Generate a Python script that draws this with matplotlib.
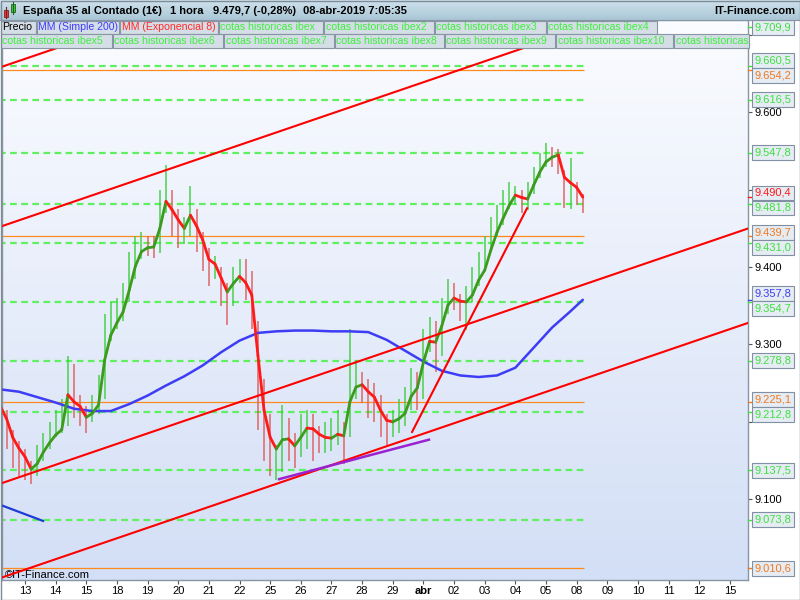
import numpy as np
import matplotlib.pyplot as plt
from matplotlib.collections import LineCollection
from matplotlib.colors import LinearSegmentedColormap
from matplotlib.patches import Rectangle

plt.rcParams['font.family'] = ['Liberation Sans', 'DejaVu Sans']

# trading days shown on the time axis (13-mar .. 15-abr 2019)
day_labels = ['13', '14', '15', '18', '19', '20', '21', '22', '25', '26', '27', '28', '29',
              'abr', '02', '03', '04', '05', '08', '09', '10', '11', '12', '15']

# price bars, 5 per session, first one on the afternoon of 12-mar
bar_close = [9205, 9185, 9160, 9150, 9140, 9130, 9160, 9175, 9185, 9195,
             9200, 9260, 9215, 9205, 9195, 9220, 9240, 9320, 9340, 9345,
             9360, 9395, 9420, 9430, 9428, 9425, 9480, 9505, 9455, 9445,
             9448, 9485, 9440, 9420, 9395, 9400, 9370, 9355, 9395, 9400,
             9375, 9340, 9230, 9170, 9150, 9150, 9190, 9175, 9165, 9190,
             9200, 9185, 9178, 9178, 9180, 9190, 9178, 9250, 9265, 9245,
             9230, 9225, 9200, 9192, 9196, 9210, 9220, 9250, 9245, 9300,
             9320, 9295, 9345, 9370, 9365, 9350, 9355, 9380, 9400, 9415,
             9450, 9470, 9480, 9495, 9505, 9482, 9500, 9525, 9540, 9548,
             9545, 9535, 9490, 9500, 9495, 9480]
bar_high = [9241, 9215, 9190, 9175, 9165, 9150, 9170, 9185, 9200, 9215,
            9230, 9285, 9275, 9235, 9220, 9235, 9260, 9340, 9355, 9360,
            9380, 9420, 9440, 9445, 9440, 9440, 9500, 9532, 9500, 9475,
            9465, 9505, 9475, 9445, 9425, 9415, 9400, 9380, 9400, 9410,
            9410, 9395, 9330, 9255, 9210, 9170, 9222, 9205, 9185, 9210,
            9215, 9210, 9195, 9200, 9205, 9215, 9200, 9320, 9280, 9265,
            9255, 9250, 9235, 9210, 9215, 9230, 9245, 9270, 9265, 9320,
            9335, 9330, 9360, 9385, 9380, 9365, 9375, 9400, 9420, 9440,
            9465, 9480, 9500, 9510, 9505, 9500, 9510, 9530, 9548, 9560,
            9555, 9552, 9525, 9541, 9510, 9495]
bar_low = [9190, 9165, 9140, 9130, 9125, 9120, 9130, 9150, 9165, 9180,
           9185, 9195, 9205, 9195, 9185, 9200, 9210, 9230, 9305, 9320,
           9330, 9355, 9385, 9410, 9415, 9412, 9418, 9470, 9440, 9425,
           9430, 9440, 9420, 9395, 9375, 9385, 9350, 9325, 9350, 9380,
           9357, 9320, 9190, 9150, 9130, 9125, 9135, 9150, 9140, 9155,
           9165, 9150, 9160, 9160, 9162, 9170, 9145, 9180, 9230, 9225,
           9205, 9200, 9180, 9170, 9180, 9185, 9195, 9215, 9215, 9230,
           9290, 9265, 9285, 9340, 9345, 9330, 9319, 9355, 9375, 9395,
           9420, 9440, 9455, 9475, 9480, 9470, 9474, 9495, 9515, 9530,
           9530, 9520, 9476, 9475, 9480, 9470]

# MM (Exponencial 8), one value per bar
ema8 = [9220, 9204, 9180, 9166, 9155, 9139, 9146, 9161, 9173, 9183,
        9190, 9235, 9226, 9220, 9206, 9211, 9222, 9280, 9312, 9328,
        9342, 9370, 9401, 9420, 9425, 9426, 9450, 9485, 9474, 9461,
        9450, 9467, 9453, 9435, 9410, 9404, 9386, 9368, 9379, 9388,
        9380, 9364, 9286, 9215, 9180, 9165, 9177, 9178, 9169, 9180,
        9192, 9191, 9184, 9180, 9179, 9184, 9182, 9226, 9245, 9248,
        9239, 9232, 9215, 9202, 9200, 9204, 9211, 9233, 9244, 9277,
        9304, 9303, 9324, 9351, 9360, 9356, 9355, 9364, 9383, 9396,
        9422, 9445, 9463, 9480, 9493, 9490, 9488, 9506, 9523, 9536,
        9542, 9545, 9516, 9509, 9503, 9490.4]

# MM (Simple 200), every third bar plus the last one
sma_bars = list(range(0, 96, 3)) + [95]
sma200 = [9242, 9239, 9232, 9225, 9217, 9214, 9214, 9223, 9234, 9247,
          9259, 9273, 9290, 9305, 9315, 9317, 9318, 9318, 9317, 9317,
          9316, 9306, 9292, 9278, 9266, 9260, 9258, 9260, 9270, 9296,
          9322, 9343, 9357.8]

# horizontal levels
cotas = [9709.9, 9660.5, 9616.5, 9547.8, 9481.8, 9431.0, 9354.7, 9278.8,
         9212.8, 9137.5, 9073.8]
naranjas = [9654.2, 9439.7, 9225.1, 9010.6]

# hand drawn lines, anchors as (day, price)
canal_1 = ([-0.82, 4.0], [9658, 9723])
canal_2 = ([-0.82, 17.0], [9452, 9693])
canal_3 = ([-0.82, 23.6], [9120, 9450])
canal_4 = ([-0.82, 23.6], [8998, 9328])
subida = ([12.63, 16.38], [9187, 9476])
soporte = ([8.29, 13.18], [9126, 9177])
azul = ([-0.82, 0.59], [9093, 9072])


def es_num(v, dec=1):
    s = '{:,.{}f}'.format(v, dec)
    return s.replace(',', 'X').replace('.', ',').replace('X', '.')


W, H = 800, 600
fig = plt.figure(figsize=(8, 6), dpi=100)
fig.patch.set_facecolor('white')
ax = fig.add_axes([2 / W, 20 / H, 746 / W, 560 / H])

bg = LinearSegmentedColormap.from_list('bg', ['#fbfcff', '#d3dff6'])
ax.imshow(np.linspace(0, 1, 256).reshape(-1, 1), cmap=bg, extent=[0, 1, 0, 1],
          transform=ax.transAxes, aspect='auto', zorder=0)

bar_k = -0.8 + 0.2 * np.arange(len(bar_close))
x_end = bar_k[-1] + 0.05

ax.hlines(cotas, -1, x_end, colors='#5ef05e', linestyles=(0, (3, 2)), lw=1.6, zorder=1)
ax.hlines(naranjas, -1, x_end, colors='#ff8a1e', lw=0.9, zorder=1)

# bars
cols = []
for i in range(len(bar_close)):
    prev = bar_close[i - 1] if i > 0 else 9225
    cols.append('#3fcc3f' if bar_close[i] >= prev else '#dd5c5c')
ax.vlines(bar_k, bar_low, bar_high, colors=cols, lw=1.2, alpha=0.85, zorder=3)

ax.plot(bar_k[sma_bars], sma200, color='#3d3df5', lw=1.8, zorder=3.2,
        solid_capstyle='round')

# EMA coloured by direction
pts = np.column_stack([bar_k, ema8])
segs = np.stack([pts[:-1], pts[1:]], axis=1)
ecol = ['#3c9a1c' if ema8[i + 1] >= ema8[i] else '#ff1a1a' for i in range(len(ema8) - 1)]
ax.add_collection(LineCollection(segs, colors=ecol, linewidths=2.0, capstyle='round',
                                 joinstyle='round', zorder=4))

for ln in [canal_1, canal_2, canal_3, canal_4, subida]:
    ax.plot(ln[0], ln[1], color='#ff0000', lw=1.5, zorder=4.5)
ax.plot(soporte[0], soporte[1], color='#9a22d0', lw=1.8, zorder=4.5)
ax.plot(azul[0], azul[1], color='#1f3bd6', lw=1.6, zorder=4.5)

ax.text(0.004, 5 / 560, '\u00a9IT-Finance.com', transform=ax.transAxes, fontsize=8,
        va='center', ha='left', zorder=1.5)

ax.set_xlim(-0.75, 23.59)
ax.set_ylim(8995.7, 9719.3)

ax.set_xticks(range(len(day_labels)))
ax.set_xticklabels(day_labels, fontsize=8)
ax.get_xticklabels()[13].set_fontweight('bold')
ax.tick_params(axis='x', direction='out', length=3, color='#555555', pad=1.5)
ax.yaxis.tick_right()
# 9.200, 9.500 and 9.700 sit under the value boxes, only their ticks show
yt = [9100, 9200, 9300, 9400, 9500, 9600, 9700]
ax.set_yticks(yt)
ax.set_yticklabels([es_num(v, 0) if v in (9100, 9300, 9400, 9600) else '' for v in yt],
                   fontsize=8)
ax.tick_params(axis='y', direction='out', length=3, color='#555555', pad=1.5)
for sp in ax.spines.values():
    sp.set_color('#8796a2')
    sp.set_linewidth(1)

# value boxes on the price scale
labels = [(v, '#3fe03f') for v in cotas] + [(v, '#f07a20') for v in naranjas]
labels += [(ema8[-1], '#ff1a1a'), (sma200[-1], '#3d3df5')]
labels.sort(key=lambda t: -t[0])
pos = [v for v, c in labels]
sep = 15 * (9719.3 - 8995.7) / 560
for _ in range(60):
    for i in range(len(pos) - 1):
        d = pos[i] - pos[i + 1]
        if d < sep:
            pos[i] += (sep - d) / 2
            pos[i + 1] -= (sep - d) / 2
tr = ax.get_yaxis_transform()
for (v, c), p in zip(labels, pos):
    ax.plot([1, 1.006], [v, v], color=c, lw=1, transform=tr, clip_on=False, zorder=5)
    ax.text(1.0087, p, es_num(v), transform=tr, fontsize=8, color=c, va='center', ha='left',
            clip_on=False, zorder=6,
            bbox=dict(boxstyle='square,pad=0.22', fc='#e6ecf4', ec='#8191a3', lw=0.8))

# header and legend strip
ov = fig.add_axes([0, 0, 1, 1], zorder=10)
ov.axis('off')
hb = LinearSegmentedColormap.from_list('hb', ['#cfe2ec', '#a9c6d6'])
ov.imshow(np.linspace(0, 1, 64).reshape(-1, 1), cmap=hb, extent=[0, 800, 20, 0],
          aspect='auto', zorder=0)
ov.set_xlim(0, W)
ov.set_ylim(H, 0)
ov.plot([0, 800], [20, 20], color='#8796a2', lw=0.8)

# small candle icon
ov.plot([6, 6], [7, 18], color='#802020', lw=0.8)
ov.add_patch(Rectangle((4, 10), 4, 7, fc='#e83a3a', ec='#802020', lw=0.6))
ov.plot([13, 13], [2, 14], color='#206020', lw=0.8)
ov.add_patch(Rectangle((11, 4), 4, 8, fc='#3acc3a', ec='#206020', lw=0.6))

hdr = [(23, 'España 35 al Contado (1€)'), (170, '1 hora'), (213, '9.479,7 (-0,28%)'),
       (303, '08-abr-2019 7:05:35')]
for x, t in hdr:
    ov.text(x, 11, t, fontsize=8, fontweight='bold', va='center', ha='left')
ov.text(795, 11, 'IT-Finance.com', fontsize=8, fontweight='bold', va='center', ha='right')

row1 = [(0, 35, 'Precio', 'black'), (36, 118, 'MM (Simple 200)', '#3b3bff'),
        (119, 217, 'MM (Exponencial 8)', '#ff2a2a'),
        (218, 322, 'cotas historicas ibex', '#3fee3f'),
        (323, 433, 'cotas historicas ibex2', '#3fee3f'),
        (434, 545, 'cotas historicas ibex3', '#3fee3f'),
        (546, 656, 'cotas historicas ibex4', '#3fee3f')]
row2 = [(0, 111, 'cotas historicas ibex5', '#3fee3f'),
        (112, 222, 'cotas historicas ibex6', '#3fee3f'),
        (223, 333, 'cotas historicas ibex7', '#3fee3f'),
        (334, 443, 'cotas historicas ibex8', '#3fee3f'),
        (444, 554, 'cotas historicas ibex9', '#3fee3f'),
        (555, 672, 'cotas historicas ibex10', '#3fee3f'),
        (673, 748, 'cotas historicas ibex11', '#3fee3f')]
for y0, row in [(20.5, row1), (34, row2)]:
    for x0, x1, t, c in row:
        box = Rectangle((x0 + 0.5, y0), x1 - x0, 13.5, fc='#d5dee6', ec='#8796a2', lw=0.8)
        ov.add_patch(box)
        txt = ov.text(x0 + 2.5, y0 + 7, t, fontsize=7.6, color=c, va='center', ha='left',
                      clip_on=True)
        txt.set_clip_path(box)

ov.add_patch(Rectangle((0.5, 0.5), 799, 599, fill=False, ec='#7d8c98', lw=1))

fig.savefig('out.png', dpi=100)
